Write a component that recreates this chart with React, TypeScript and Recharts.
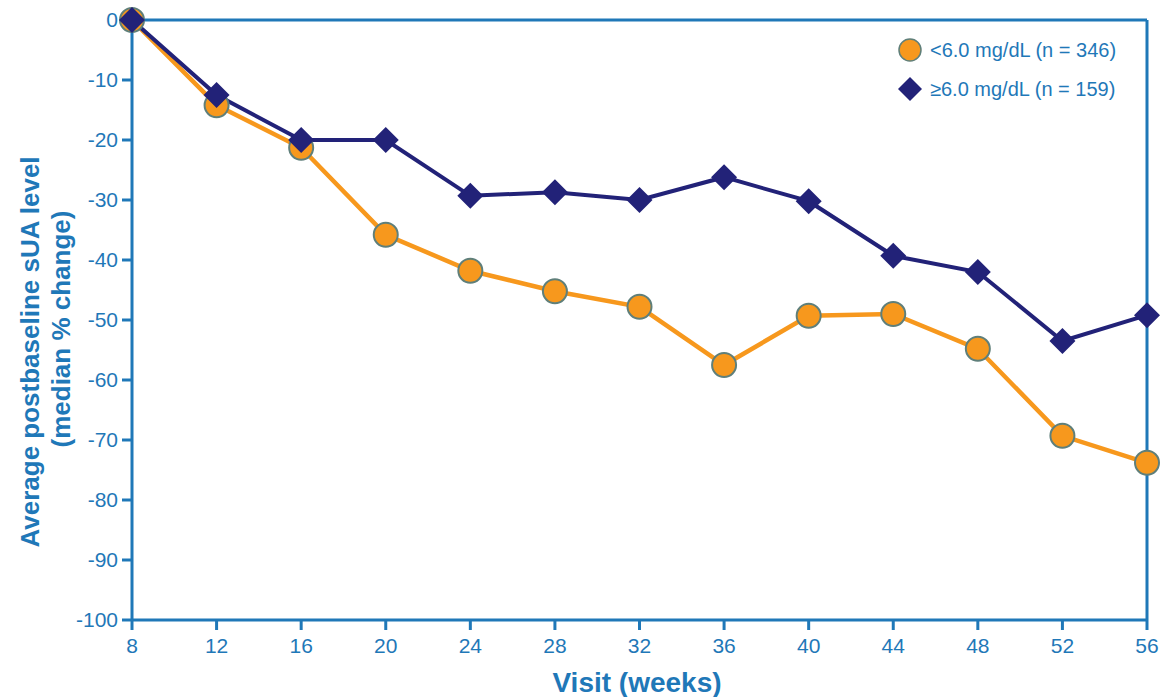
import { Line, LineChart, ReferenceLine, XAxis, YAxis } from "recharts";

const weeks = [8, 12, 16, 20, 24, 28, 32, 36, 40, 44, 48, 52, 56];
const below6 = [0, -14.2, -21.3, -35.8, -41.8, -45.2, -47.8, -57.5, -49.3, -49, -54.8, -69.3, -73.8];
const above6 = [0, -12.5, -20, -20, -29.3, -28.7, -30, -26.2, -30.2, -39.3, -42, -53.5, -49.2];
const yTicks = [0, -10, -20, -30, -40, -50, -60, -70, -80, -90, -100];

const blue = "#1f78b8";
const orange = "#f7981d";
const ring = "#5f7f7a";
const navy = "#222278";
const font = "'Liberation Sans', Arial, sans-serif";

const data = weeks.map((w, i) => ({ week: w, below: below6[i], above: above6[i] }));

function Diamond(props: any) {
  const { cx, cy } = props;
  if (cx == null || cy == null) return null;
  const r = 13;
  return (
    <path
      d={`M${cx},${cy - r}L${cx + r},${cy}L${cx},${cy + r}L${cx - r},${cy}Z`}
      fill={navy}
    />
  );
}

function LegendBox() {
  const rows = [
    { label: "<6.0 mg/dL (n = 346)", shape: "circle" },
    { label: "\u22656.0 mg/dL (n = 159)", shape: "diamond" },
  ];
  return (
    <svg width={250} height={80} style={{ position: "absolute", left: 894, top: 28 }}>
      {rows.map((r, i) => {
        const y = 22 + i * 39;
        return (
          <g key={r.label}>
            {r.shape === "circle" ? (
              <circle cx={16} cy={y} r={11} fill={orange} stroke={ring} strokeWidth={1.5} />
            ) : (
              <path d={`M16,${y - 12}L28,${y}L16,${y + 12}L4,${y}Z`} fill={navy} />
            )}
            <text x={36} y={y + 7} fontSize={20} fill={blue} fontFamily={font}>
              {r.label}
            </text>
          </g>
        );
      })}
    </svg>
  );
}

function YLabel() {
  return (
    <g>
      <text
        transform="translate(30, 352) rotate(-90)"
        textAnchor="middle"
        dominantBaseline="central"
        fontSize={26}
        fontWeight="bold"
        fill={blue}
        fontFamily={font}
      >
        Average postbaseline sUA level
      </text>
      <text
        transform="translate(61, 329) rotate(-90)"
        textAnchor="middle"
        dominantBaseline="central"
        fontSize={26}
        fontWeight="bold"
        fill={blue}
        fontFamily={font}
      >
        (median % change)
      </text>
    </g>
  );
}

function XLabel() {
  return (
    <text x={637} y={682} textAnchor="middle" dominantBaseline="central" fontSize={28} fontWeight="bold" fill={blue} fontFamily={font}>
      Visit (weeks)
    </text>
  );
}

export default function App() {
  return (
    <div style={{ position: "relative", width: 1162, height: 697, background: "#fff" }}>
      <style>{"body { margin: 0; }"}</style>
      <LineChart width={1162} height={697} data={data} margin={{ top: 20, right: 15, bottom: 0, left: 0 }}>
        <XAxis
          dataKey="week"
          type="number"
          domain={[8, 56]}
          ticks={weeks}
          interval={0}
          height={77}
          stroke={blue}
          strokeWidth={3}
          tickSize={10}
          tick={{ fill: blue, fontSize: 21, fontFamily: font, dy: 6 }}
          label={<XLabel />}
        />
        <YAxis
          type="number"
          domain={[-100, 0]}
          ticks={yTicks}
          interval={0}
          width={132}
          stroke={blue}
          strokeWidth={3}
          tickSize={10}
          tick={{ fill: blue, fontSize: 21, fontFamily: font, dx: -2 }}
          label={<YLabel />}
        />
        <ReferenceLine y={0} stroke={blue} strokeWidth={3} />
        <ReferenceLine x={56} stroke={blue} strokeWidth={3} />
        <Line
          dataKey="below"
          stroke={orange}
          strokeWidth={4.5}
          dot={{ r: 12, fill: orange, stroke: ring, strokeWidth: 2 }}
          isAnimationActive={false}
        />
        <Line
          dataKey="above"
          stroke={navy}
          strokeWidth={4}
          dot={<Diamond />}
          isAnimationActive={false}
        />
      </LineChart>
      <LegendBox />
    </div>
  );
}
